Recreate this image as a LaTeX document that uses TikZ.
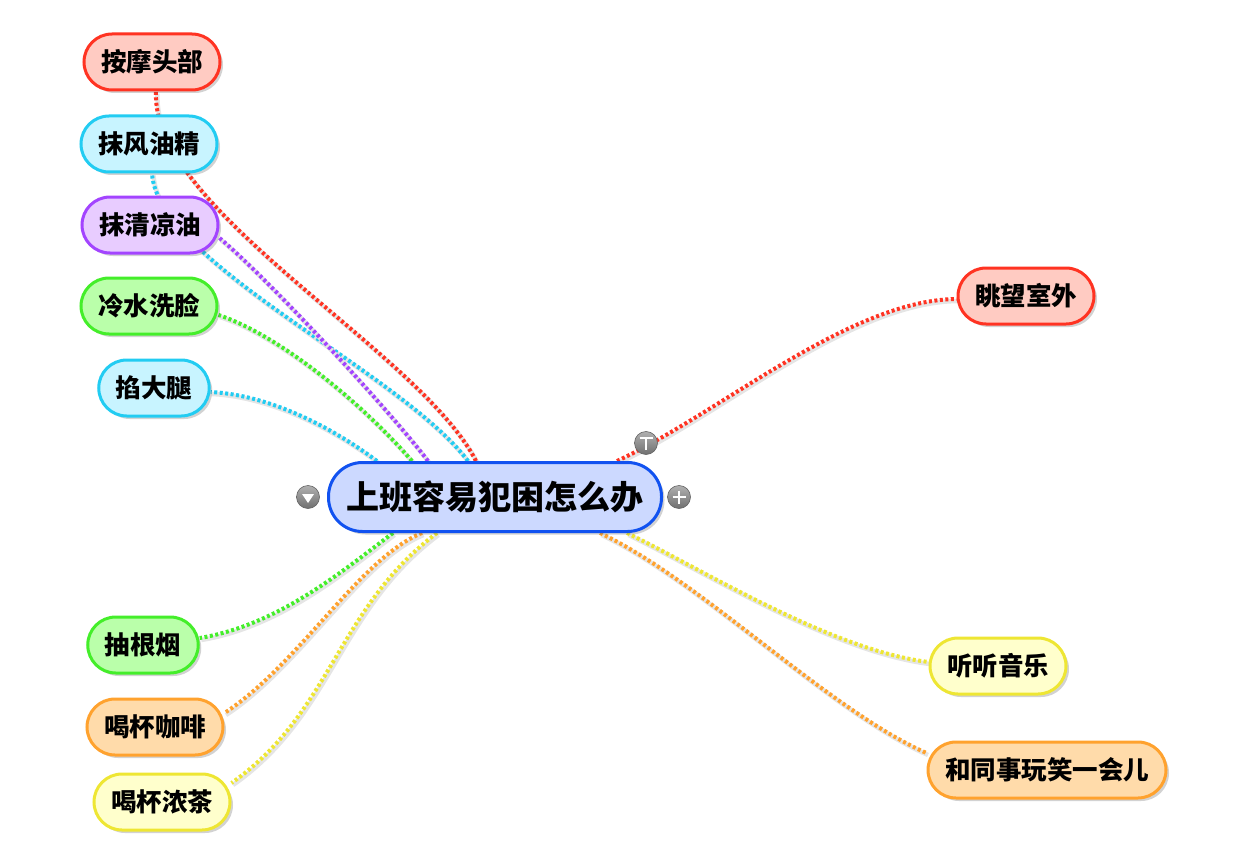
\documentclass[tikz,border=0pt]{standalone}
\usepackage{fontspec}
\newfontfamily\cjk{Noto Sans CJK SC}
\usetikzlibrary{shadows,calc}
\pgfdeclarelayer{bg}
\pgfsetlayers{bg,main}
\definecolor{redB}{HTML}{FF3322}\definecolor{redF}{HTML}{FFCBC2}
\definecolor{cyanB}{HTML}{22CCF2}\definecolor{cyanF}{HTML}{C8F4FF}
\definecolor{purB}{HTML}{A344FF}\definecolor{purF}{HTML}{E8CCFF}
\definecolor{grnB}{HTML}{44EE2A}\definecolor{grnF}{HTML}{BAFFAA}
\definecolor{orgB}{HTML}{FFA22E}\definecolor{orgF}{HTML}{FFDBAA}
\definecolor{ylwB}{HTML}{EEE633}\definecolor{ylwF}{HTML}{FFFFCC}
\definecolor{cenB}{HTML}{1152F0}\definecolor{cenF}{HTML}{CCD9FF}
\definecolor{btnG}{HTML}{7C7C7C}
\tikzset{
  leaf/.style={draw, line width=3pt, rounded corners=28pt, minimum height=56pt,
    inner xsep=17pt, inner ysep=0pt,
    font=\cjk\bfseries\fontsize{25.5pt}{25.5pt}\selectfont,
    drop shadow={shadow xshift=3pt, shadow yshift=-3pt, opacity=0.25, fill=black!70}},
  center node/.style={draw=cenB, fill=cenF, line width=3pt, rounded corners=34pt,
    minimum height=69pt, inner xsep=18pt, inner ysep=0pt,
    font=\cjk\bfseries\fontsize{33pt}{33pt}\selectfont,
    drop shadow={shadow xshift=3pt, shadow yshift=-3pt, opacity=0.25, fill=black!70}},
  lred/.style={leaf, draw=redB, fill=redF},
  lcyan/.style={leaf, draw=cyanB, fill=cyanF},
  lpur/.style={leaf, draw=purB, fill=purF},
  lgrn/.style={leaf, draw=grnB, fill=grnF},
  lorg/.style={leaf, draw=orgB, fill=orgF},
  lylw/.style={leaf, draw=ylwB, fill=ylwF},
  link/.style={line width=4pt, dash pattern=on 3pt off 2.5pt,
    preaction={draw=black!10, solid, line width=4.5pt, transform canvas={shift={(1.5pt,-2pt)}}}},
  btn/.style={circle, minimum size=23pt, inner sep=0pt, top color=btnG!60, bottom color=btnG!90!black, draw=btnG!80!black, line width=0.6pt},
  btnmark/.style={white, line width=2.8pt},
}
\begin{document}
\begin{tikzpicture}[x=1pt, y=-1pt]
\useasboundingbox (0,0) rectangle (1256,856);
% central
\node[center node] (c) at (495,497) {上班容易犯困怎么办};
% left top
\node[lred]  (a1) at (152,62)  {按摩头部};
\node[lcyan] (a2) at (149,144) {抹风油精};
\node[lpur]  (a3) at (150,225) {抹清凉油};
\node[lgrn]  (a4) at (149,306) {冷水洗脸};
\node[lcyan] (a5) at (154,388) {掐大腿};
% left bottom
\node[lgrn]  (b1) at (143,645) {抽根烟};
\node[lorg]  (b2) at (155,727) {喝杯咖啡};
\node[lylw]  (b3) at (162,802) {喝杯浓茶};
% right
\node[lred]  (r1) at (1026,296) {眺望室外};
\node[lylw]  (r2) at (998,666)  {听听音乐};
\node[lorg]  (r3) at (1047,770) {和同事玩笑一会儿};
% buttons
\node[btn] (bl) at (308,497) {};
\node[btn] (br) at (679,497) {};
\node[btn] (bt) at (646,443) {};
\fill[white] ($(bl)+(-6,-3)$) -- ($(bl)+(6,-3)$) -- ($(bl)+(0,6)$) -- cycle;
\draw[btnmark] ($(br)+(-6.5,0)$) -- ($(br)+(6.5,0)$);
\draw[btnmark] ($(br)+(0,-6.5)$) -- ($(br)+(0,6.5)$);
\draw[btnmark] ($(bt)+(-6.5,-5)$) -- ($(bt)+(6.5,-5)$);
\draw[btnmark] ($(bt)+(0,-5)$) -- ($(bt)+(0,7)$);
% connectors
\begin{pgfonlayer}{bg}
\draw[link, redB]  ([xshift=-19pt]c.north) .. controls +(-56,-110) and +(-6,118) .. ([xshift=4pt]a1.south);
\draw[link, cyanB] ([xshift=-27pt]c.north) .. controls +(-68,-90) and +(6,90) .. ([xshift=3pt]a2.south);
\draw[link, purB]  ([xshift=-67pt]c.north) .. controls +(-38,-50) and +(50,42) .. ([yshift=-13pt]a3.east);
\draw[link, grnB]  ([xshift=-83pt]c.north) .. controls +(-52,-60) and +(60,20) .. ([yshift=-9pt]a4.east);
\draw[link, cyanB] ([xshift=-118pt]c.north) .. controls +(-47,-35) and +(58,3) .. ([yshift=-4pt]a5.east);
\draw[link, grnB]  ([xshift=-102pt]c.south) .. controls +(-53,40) and +(78,-13) .. ([yshift=7pt]b1.east);
\draw[link, orgB]  ([xshift=-73pt]c.south) .. controls +(-62,25) and +(75,-49) .. ([yshift=14pt]b2.east);
\draw[link, ylwB]  ([xshift=-58pt]c.south) .. controls +(-100,75) and +(100,-70) .. ([yshift=19pt]b3.east);
\draw[link, redB]  ([xshift=122pt]c.north) .. controls +(103,-48) and +(-107,1) .. ([yshift=-3pt]r1.west);
\draw[link, ylwB]  ([xshift=132pt]c.south) .. controls +(73,35) and +(-98,-12) .. ([yshift=4pt]r2.west);
\draw[link, orgB]  ([xshift=105pt]c.south) .. controls +(100,47) and +(-98,-43) .. ([yshift=17pt]r3.west);
\end{pgfonlayer}
\end{tikzpicture}
\end{document}
